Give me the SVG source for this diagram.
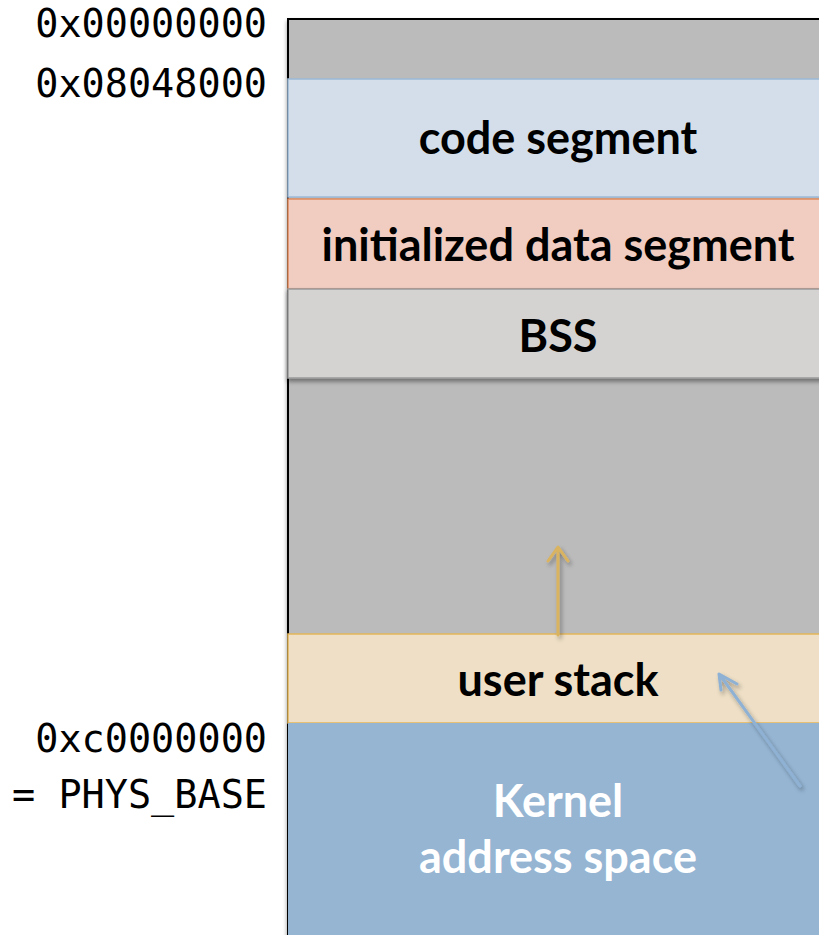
<svg xmlns="http://www.w3.org/2000/svg" width="819" height="935" viewBox="0 0 819 935">
<defs>
<style>
.seg{font-family:Lato,"Open Sans","Liberation Sans",sans-serif;font-weight:bold;font-size:45px;text-anchor:middle}
.addr{font-family:"DejaVu Sans Mono","Liberation Mono",monospace;font-size:38.5px;text-anchor:end;fill:#000}
</style>
<filter id="sh" x="-5%" y="-20%" width="110%" height="150%"><feDropShadow dx="0" dy="3" stdDeviation="2" flood-color="#000" flood-opacity="0.4"/></filter>
<filter id="ash" filterUnits="userSpaceOnUse" x="0" y="0" width="819" height="935"><feDropShadow dx="2" dy="3" stdDeviation="2" flood-color="#000" flood-opacity="0.35"/></filter>
</defs>
<rect width="819" height="935" fill="#fff"/>
<g id="space">
<rect x="288" y="19" width="540" height="930" fill="#BBBBBB" stroke="#000" stroke-width="2" filter="url(#sh)"/>
</g>
<g id="code">
<rect x="288" y="79" width="540" height="118" fill="#D3DEEA" stroke="#9CB9D6" stroke-width="1.5"/>
<text class="seg" x="558" y="154">code segment</text>
</g>
<g id="data">
<rect x="288" y="199" width="540" height="90" fill="#F0CCC1" stroke="#E08A5E" stroke-width="1.5"/>
<text class="seg" x="558" y="261">initialized data segment</text>
</g>
<g id="bss">
<rect x="288" y="289" width="540" height="89" fill="#D4D3D2" stroke="#9A9A9A" stroke-width="1.5" filter="url(#sh)"/>
<text class="seg" x="558" y="352">BSS</text>
</g>
<g id="stack">
<rect x="288" y="634" width="540" height="89" fill="#EEDFC6" stroke="#E3B65A" stroke-width="1.5"/>
<text class="seg" x="558" y="696">user stack</text>
</g>
<g id="kernel">
<rect x="288" y="723" width="540" height="230" fill="#95B5D3"/>
<text class="seg" x="558" y="817" fill="#fff">Kernel</text>
<text class="seg" x="558" y="873" fill="#fff">address space</text>
</g>
<g id="connectors" filter="url(#ash)">
<path d="M558,635 L558,548 M548,561 L558,547 L568,561" fill="none" stroke="#D9B35F" stroke-width="3" stroke-linecap="round" stroke-linejoin="round"/>
<path d="M800,786 L720,675 M721,690 L719,674 L737,684" fill="none" stroke="#8FB1D3" stroke-width="3" stroke-linecap="round" stroke-linejoin="round"/>
</g>
<g id="labels">
<text class="addr" x="267" y="37">0x00000000</text>
<text class="addr" x="267" y="97">0x08048000</text>
<text class="addr" x="267" y="752">0xc0000000</text>
<text class="addr" x="267" y="808">= PHYS_BASE</text>
</g>
</svg>
